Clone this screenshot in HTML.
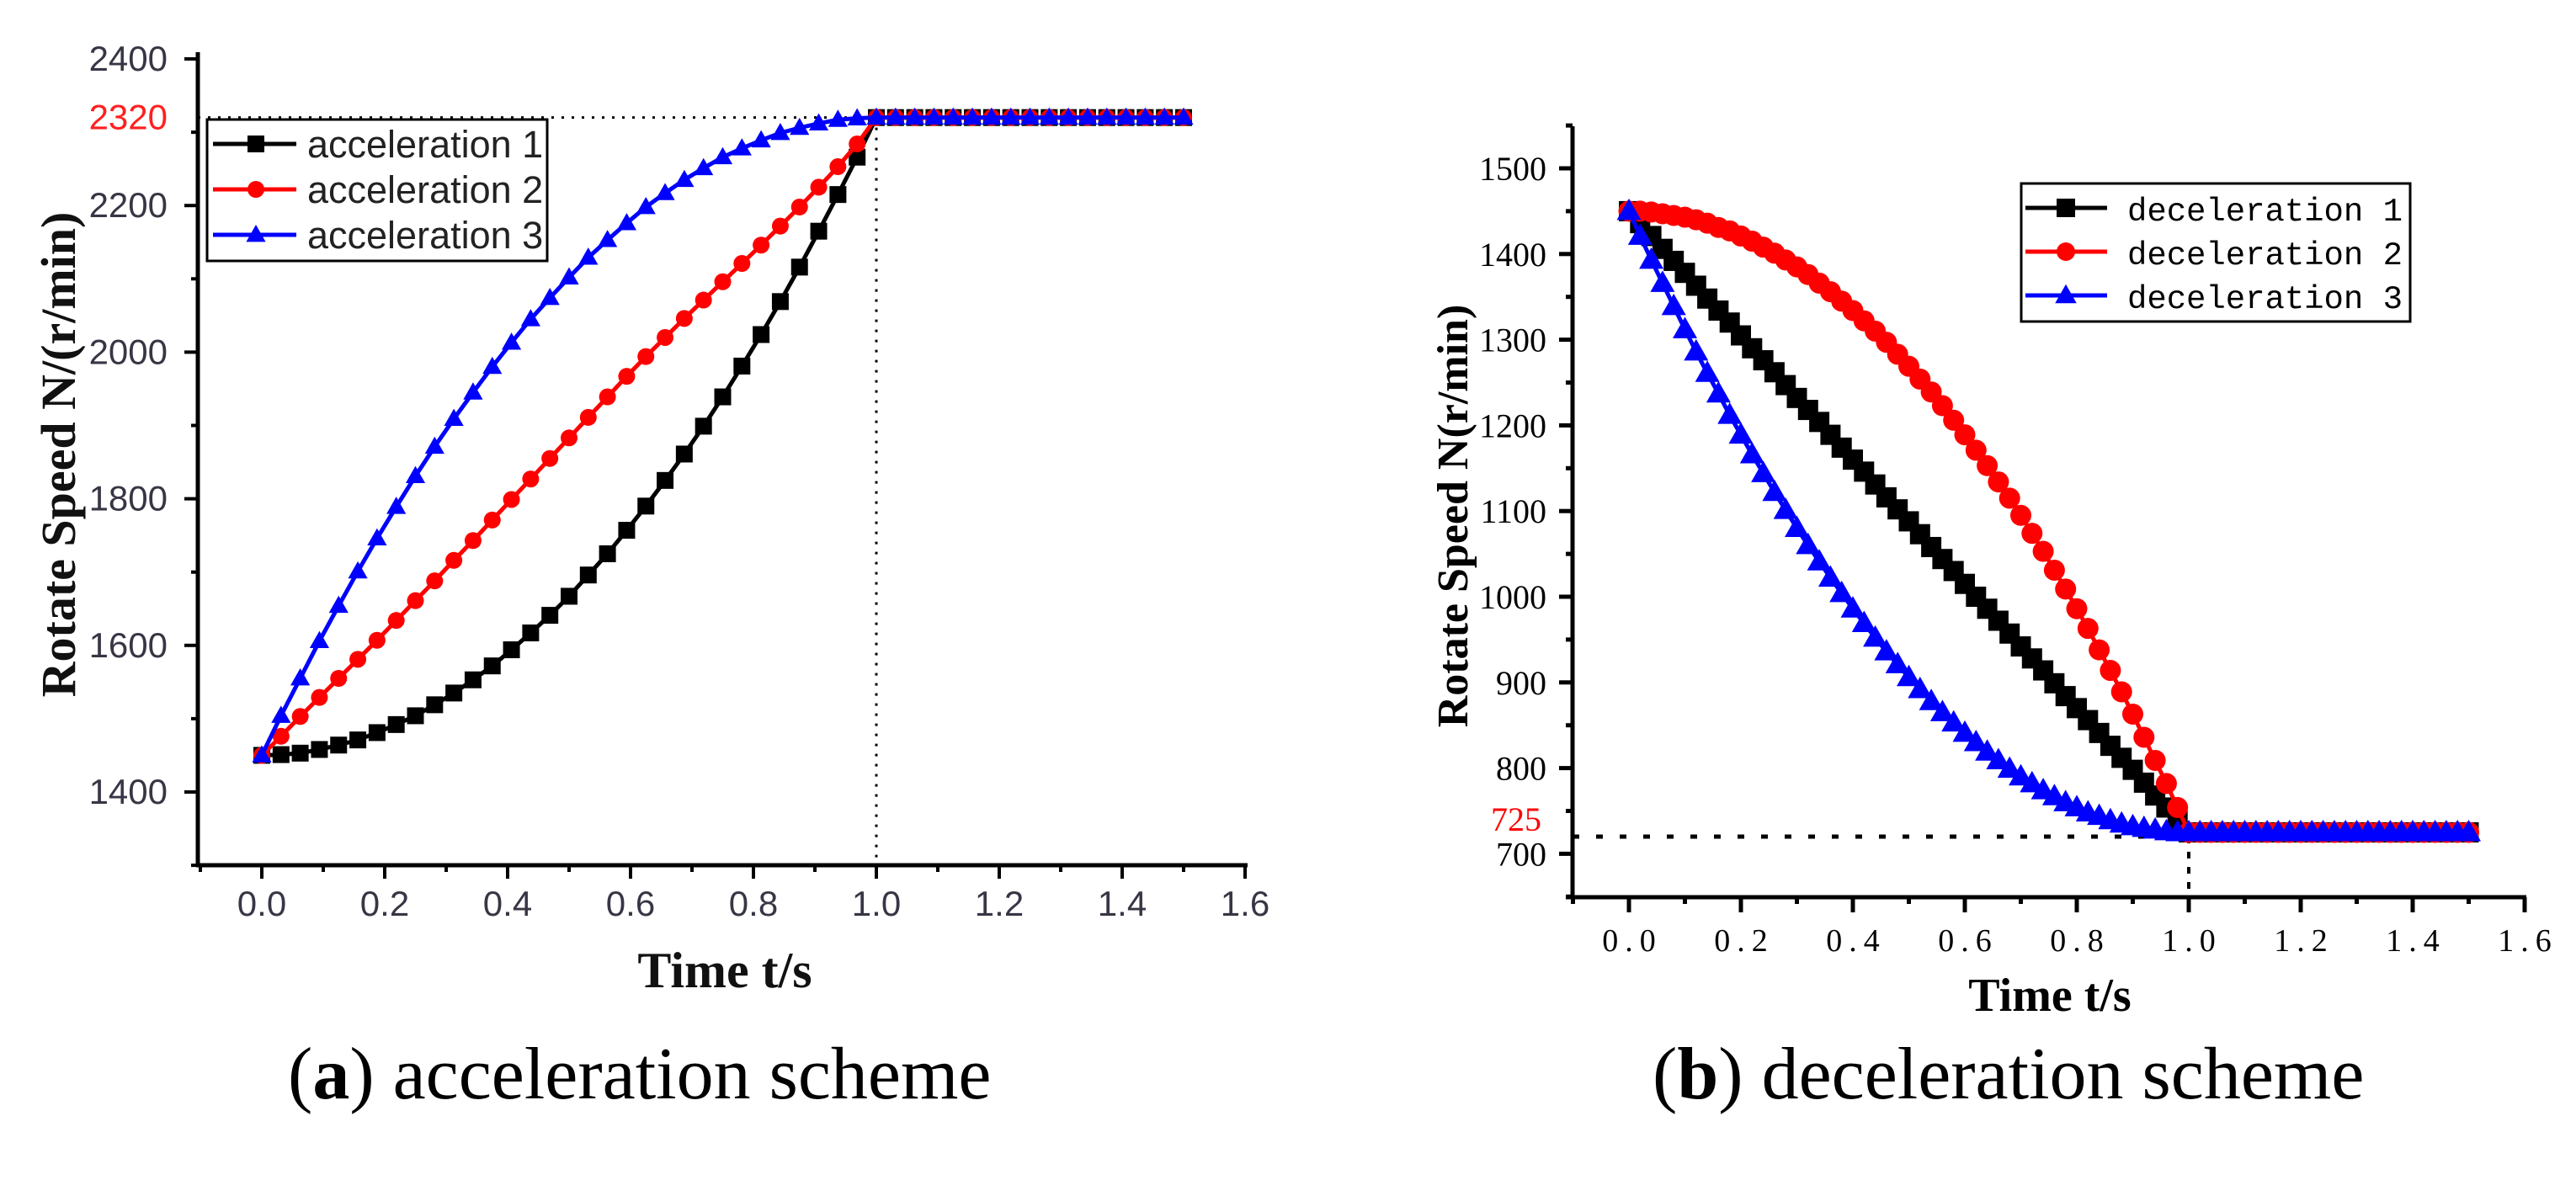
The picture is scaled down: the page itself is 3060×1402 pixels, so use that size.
<!DOCTYPE html>
<html><head><meta charset="utf-8"><style>
html,body{margin:0;padding:0;background:#fff;}
svg{display:block;}
</style></head><body>
<svg id="fig" width="3060" height="1402" viewBox="0 0 3060 1402" xmlns="http://www.w3.org/2000/svg">
<g id="left"></g>
<g id="right"></g>
<text x="342" y="1305" font-family="Liberation Serif, serif" font-size="88" fill="#000">(<tspan font-weight="bold">a</tspan>) acceleration scheme</text>
<text x="1963" y="1305" font-family="Liberation Serif, serif" font-size="88" fill="#000">(<tspan font-weight="bold">b</tspan>) deceleration scheme</text>
</svg>
<script>
// ---- acceleration data (t step 1/32) ----
const accStep = 1/32;
const acc1 = [1450,1451,1453,1458,1464,1471,1481,1492,1504,1519,1535,1553,1572,1594,1617,1641,1667,1696,1725,1757,1790,1825,1861,1899,1939,1981,2024,2069,2116,2165,2215,2266,2320,2320,2320,2320,2320,2320,2320,2320,2320,2320,2320,2320,2320,2320,2320,2320,2320];
const acc2 = [1450,1476,1503,1529,1555,1581,1607,1634,1661,1688,1716,1743,1771,1799,1827,1855,1883,1911,1939,1967,1994,2020,2046,2071,2096,2121,2146,2172,2198,2225,2253,2284,2320,2320,2320,2320,2320,2320,2320,2320,2320,2320,2320,2320,2320,2320,2320,2320,2320];
const acc3 = [1450,1504,1555,1606,1654,1701,1746,1789,1831,1871,1909,1945,1980,2013,2045,2074,2102,2129,2153,2176,2198,2217,2235,2251,2266,2278,2289,2299,2306,2312,2317,2319,2320,2320,2320,2320,2320,2320,2320,2320,2320,2320,2320,2320,2320,2320,2320,2320,2320];
const accYTicks = [1400,1600,1800,2000,2200,2400];
const accXTicks = ["0.0","0.2","0.4","0.6","0.8","1.0","1.2","1.4","1.6"];
const accLegend = ["acceleration 1","acceleration 2","acceleration 3"];
// ---- deceleration data (t step 0.02) ----
const decStep = 0.02;
const dec1 = [1450,1436,1421,1406,1392,1378,1363,1348,1334,1320,1305,1290,1276,1262,1247,1232,1218,1204,1189,1174,1160,1146,1131,1116,1102,1088,1073,1058,1044,1030,1015,1000,986,972,957,942,928,914,899,884,870,856,841,826,812,798,783,768,754,740,725,725,725,725,725,725,725,725,725,725,725,725,725,725,725,725,725,725,725,725,725,725,725,725,725,725];
const dec2 = [1450,1450,1449,1447,1445,1443,1440,1436,1431,1427,1421,1415,1408,1401,1393,1385,1376,1366,1356,1345,1334,1322,1310,1297,1283,1269,1254,1239,1223,1206,1189,1171,1153,1134,1115,1095,1074,1053,1031,1009,986,963,938,914,889,863,836,809,782,754,725,725,725,725,725,725,725,725,725,725,725,725,725,725,725,725,725,725,725,725,725,725,725,725,725,725];
const dec3 = [1450,1421,1393,1366,1339,1312,1286,1261,1237,1212,1189,1166,1144,1122,1101,1080,1060,1041,1022,1004,986,969,952,936,921,906,892,878,865,853,841,830,819,809,799,790,782,774,767,760,754,748,744,739,735,732,730,728,726,725,725,725,725,725,725,725,725,725,725,725,725,725,725,725,725,725,725,725,725,725,725,725,725,725,725,725];
const decYTicks = [700,800,900,1000,1100,1200,1300,1400,1500];
const decXTicks = ["0.0","0.2","0.4","0.6","0.8","1.0","1.2","1.4","1.6"];
const decLegend = ["deceleration 1","deceleration 2","deceleration 3"];

const NS = "http://www.w3.org/2000/svg";
function mk(parent, tag, attrs, text){
  const e = document.createElementNS(NS, tag);
  for (const k in attrs) e.setAttribute(k, attrs[k]);
  if (text !== undefined) e.textContent = text;
  parent.appendChild(e);
  return e;
}
function marker(g, kind, cx, cy, s, color){
  let m;
  if (kind === "square") m = mk(g, "rect", {x: cx - s/2, y: cy - s/2, width: s, height: s, fill: color});
  else if (kind === "circle") m = mk(g, "circle", {cx: cx, cy: cy, r: s/2, fill: color});
  else m = mk(g, "polygon", {points: `${cx},${cy - s*0.6} ${cx - s*0.58},${cy + s*0.42} ${cx + s*0.58},${cy + s*0.42}`, fill: color});
  return m;
}

// ================= LEFT CHART =================
(function(){
  const g = document.getElementById("left");
  const x = t => 311 + (t) * 730;
  const y = v => 941 - (v - 1400) * 0.871;
  const axisX0 = 235, axisY0 = 1028, top = 62, right = x(1.6);
  const lab = "#3a3545";
  let e = mk(g, "line", {x1: axisX0, y1: y(2320), x2: x(1.0), y2: y(2320), stroke: "#000", "stroke-width": 3, "stroke-dasharray": "3 9"});
  
  
  e = mk(g, "line", {x1: x(1.0), y1: y(2320), x2: x(1.0), y2: axisY0, stroke: "#000", "stroke-width": 3, "stroke-dasharray": "3 9"});
  
  
  e = mk(g, "line", {x1: axisX0, y1: top, x2: axisX0, y2: axisY0, stroke: "#000", "stroke-width": 5});
  
  
  e = mk(g, "line", {x1: axisX0 - 2, y1: axisY0, x2: right + 3, y2: axisY0, stroke: "#000", "stroke-width": 5});
  
  
  for (let v = 1300; v <= 2400; v += 100) {
    const major = accYTicks.includes(v);
    e = mk(g, "line", {x1: axisX0 - (major ? 16 : 8), y1: y(v), x2: axisX0, y2: y(v), stroke: "#000", "stroke-width": 4});
    
    
  }
  accYTicks.forEach(v => {
    const t = mk(g, "text", {x: 199, y: y(v) + 14, "text-anchor": "end", "font-family": "Liberation Sans, sans-serif", "font-size": 42, fill: lab}, String(v));
    
    
  });
  e = mk(g, "text", {x: 199, y: y(2320) + 14, "text-anchor": "end", "font-family": "Liberation Sans, sans-serif", "font-size": 42, fill: "#ff2020"}, "2320");
  
  
  for (let i = -1; i <= 16; i++) {
    const major = i % 2 === 0;
    e = mk(g, "line", {x1: x(i/10), y1: axisY0, x2: x(i/10), y2: axisY0 + (major ? 16 : 8), stroke: "#000", "stroke-width": 4});
    
    
  }
  accXTicks.forEach((s, i) => {
    const t = mk(g, "text", {x: x(i*0.2), y: 1088, "text-anchor": "middle", "font-family": "Liberation Sans, sans-serif", "font-size": 42, fill: lab}, s);
    
    
  });
  e = mk(g, "text", {x: 861, y: 1173, "text-anchor": "middle", "font-family": "Liberation Serif, serif", "font-weight": "bold", "font-size": 60, fill: "#111"}, "Time t/s");
  
  
  e = mk(g, "text", {x: 0, y: 0, transform: "translate(89,540) rotate(-90)", "text-anchor": "middle", "font-family": "Liberation Serif, serif", "font-weight": "bold", "font-size": 58, fill: "#111"}, "Rotate Speed N/(r/min)");
  
  
  const series = [[acc1, "#000", "square"], [acc2, "#f00", "circle"], [acc3, "#00f", "triangle"]];
  series.forEach((s, si) => {
    const [vals, col, kind] = s;
    const sg = mk(g, "g", {});
    
    
    const pts = vals.map((v, i) => `${x(i*accStep)},${y(v)}`).join(" ");
    const pl = mk(sg, "polyline", {points: pts, fill: "none", stroke: col, "stroke-width": 5});
    
    
    vals.forEach((v, i) => {
      const m = marker(sg, kind, x(i*accStep), y(v), 20, col);
      
      
    });
  });
  const lg = mk(g, "g", {});
  
  
  e = mk(lg, "rect", {x: 246, y: 142, width: 404, height: 168, fill: "#fff", stroke: "#000", "stroke-width": 3});
  
  
  accLegend.forEach((s, i) => {
    const cy = 171 + i * 54;
    const col = series[i][1];
    const ent = mk(lg, "g", {});
    
    
    mk(ent, "line", {x1: 253, y1: cy, x2: 352, y2: cy, stroke: col, "stroke-width": 5});
    marker(ent, series[i][2], 304, cy, 20, col);
    mk(ent, "text", {x: 365, y: cy + 16, "font-family": "Liberation Sans, sans-serif", "font-size": 45, fill: "#222"}, s);
  });
})();

// ================= RIGHT CHART =================
(function(){
  const g = document.getElementById("right");
  const x = t => 1935 + t * 665;
  const y = v => 200 + (1500 - v) * 1.018;
  const axisX0 = 1868, axisY0 = 1066, top = 150, right = x(1.6);
  let e = mk(g, "line", {x1: axisX0, y1: 994, x2: x(1.0), y2: 994, stroke: "#000", "stroke-width": 5, "stroke-dasharray": "8 20"});
  
  
  e = mk(g, "line", {x1: x(1.0), y1: 994, x2: x(1.0), y2: axisY0, stroke: "#000", "stroke-width": 4, "stroke-dasharray": "8 10"});
  
  
  e = mk(g, "line", {x1: axisX0, y1: top, x2: axisX0, y2: axisY0 + 2, stroke: "#000", "stroke-width": 5});
  
  
  e = mk(g, "line", {x1: axisX0 - 8, y1: axisY0, x2: right + 2, y2: axisY0, stroke: "#000", "stroke-width": 5});
  
  
  for (let v = 650; v <= 1550; v += 50) {
    const major = v % 100 === 0;
    e = mk(g, "line", {x1: axisX0 - (major ? 16 : 8), y1: y(v), x2: axisX0, y2: y(v), stroke: "#000", "stroke-width": 5});
    
    
  }
  decYTicks.forEach(v => {
    const t = mk(g, "text", {x: 1837, y: y(v) + 14, "text-anchor": "end", "font-family": "Liberation Serif, serif", "font-size": 40, fill: "#000"}, String(v));
    
    
  });
  e = mk(g, "text", {x: 1831, y: 987, "text-anchor": "end", "font-family": "Liberation Serif, serif", "font-size": 40, fill: "#f00"}, "725");
  
  
  for (let i = -1; i <= 16; i++) {
    const major = i % 2 === 0;
    e = mk(g, "line", {x1: x(i/10), y1: axisY0, x2: x(i/10), y2: axisY0 + (major ? 18 : 8), stroke: "#000", "stroke-width": 5});
    
    
  }
  decXTicks.forEach((s, i) => {
    const t = mk(g, "text", {x: x(i*0.2) + 4, y: 1130, "text-anchor": "middle", "font-family": "Liberation Serif, serif", "font-size": 38, "letter-spacing": 8, fill: "#000"}, s);
    
    
  });
  e = mk(g, "text", {x: 2435, y: 1201, "text-anchor": "middle", "font-family": "Liberation Serif, serif", "font-weight": "bold", "font-size": 56, fill: "#000"}, "Time t/s");
  
  
  e = mk(g, "text", {x: 0, y: 0, transform: "translate(1743,613) rotate(-90)", "text-anchor": "middle", "font-family": "Liberation Serif, serif", "font-weight": "bold", "font-size": 52, fill: "#000"}, "Rotate Speed N(r/min)");
  
  
  const series = [[dec1, "#000", "square"], [dec2, "#f00", "circle"], [dec3, "#00f", "triangle"]];
  series.forEach((s, si) => {
    const [vals, col, kind] = s;
    const sg = mk(g, "g", {});
    
    
    const pts = vals.map((v, i) => `${x(i*decStep)},${y(v)}`).join(" ");
    const pl = mk(sg, "polyline", {points: pts, fill: "none", stroke: col, "stroke-width": 5});
    
    
    vals.forEach((v, i) => {
      const m = marker(sg, kind, x(i*decStep), y(v), kind === "square" ? 24 : 25, col);
      
      
    });
  });
  const lg = mk(g, "g", {});
  
  
  e = mk(lg, "rect", {x: 2401, y: 218, width: 462, height: 164, fill: "#fff", stroke: "#000", "stroke-width": 3});
  
  
  decLegend.forEach((s, i) => {
    const cy = 247 + i * 52;
    const col = series[i][1];
    const ent = mk(lg, "g", {});
    
    
    mk(ent, "line", {x1: 2406, y1: cy, x2: 2503, y2: cy, stroke: col, "stroke-width": 5});
    marker(ent, series[i][2], 2454, cy, 22, col);
    mk(ent, "text", {x: 2527, y: cy + 15, "font-family": "Liberation Mono, monospace", "font-size": 39, fill: "#000", textLength: 327}, s);
  });
})();
</script>
</body></html>
